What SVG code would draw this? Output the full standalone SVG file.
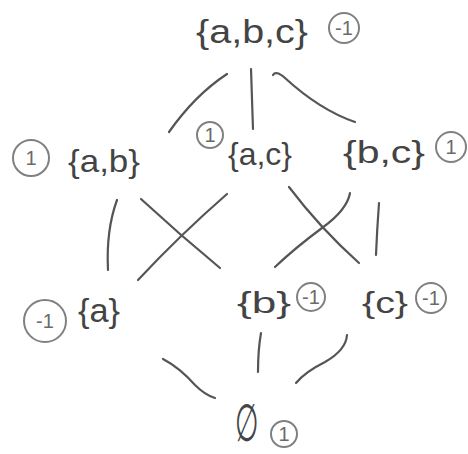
<svg xmlns="http://www.w3.org/2000/svg" width="468" height="454" viewBox="0 0 468 454">
<style>
.lbl{font-family:"Liberation Sans","DejaVu Sans",sans-serif;fill:#444;text-anchor:start}
.num{font-family:"Liberation Sans","DejaVu Sans",sans-serif;fill:#6a6a6a;font-size:20px;text-anchor:middle}
.ring{fill:none;stroke:#808080;stroke-width:2}
.edge{fill:none;stroke:#555;stroke-width:2.2;stroke-linecap:round}
</style>
<rect width="468" height="454" fill="#fff"/>
<g id="connectors">
<path class="edge" d="M227,74 Q195,95 169,132"/>
<path class="edge" d="M251,69 Q252,100 253,129"/>
<path class="edge" d="M273,75 Q276,70 285,78 Q320,110 355,122"/>
<path class="edge" d="M117,200 Q106,230 108,270"/>
<path class="edge" d="M141,199 Q180,235 220,268"/>
<path class="edge" d="M227,194 Q180,235 138,280"/>
<path class="edge" d="M289,187 Q320,228 359,263"/>
<path class="edge" d="M350,193 Q347,210 322,228 Q295,248 275,267"/>
<path class="edge" d="M379,203 Q377,230 376,255"/>
<path class="edge" d="M163,359 Q180,368 195,385 Q205,395 215,398"/>
<path class="edge" d="M261,333 Q258,350 258,372"/>
<path class="edge" d="M347,335 Q346,350 325,362 Q305,372 296,383"/>
</g>
<g id="n-abc">
<text class="lbl" x="196" y="43" font-size="34" textLength="112" lengthAdjust="spacingAndGlyphs">{a,b,c}</text>
<circle class="ring" cx="344" cy="28" r="15"/>
<text class="num" x="344" y="35">-1</text>
</g>
<g id="n-ab">
<circle class="ring" cx="31" cy="158" r="18"/>
<text class="num" x="31" y="165">1</text>
<text class="lbl" x="68" y="172" font-size="32" textLength="72" lengthAdjust="spacingAndGlyphs">{a,b}</text>
</g>
<g id="n-ac">
<circle class="ring" cx="210" cy="135" r="13"/>
<text class="num" x="210" y="142">1</text>
<text class="lbl" x="228" y="165" font-size="32" textLength="64" lengthAdjust="spacingAndGlyphs">{a,c}</text>
</g>
<g id="n-bc">
<text class="lbl" x="343" y="163" font-size="32" textLength="82" lengthAdjust="spacingAndGlyphs">{b,c}</text>
<circle class="ring" cx="451" cy="147" r="15"/>
<text class="num" x="451" y="154">1</text>
</g>
<g id="n-a">
<circle class="ring" cx="45" cy="321" r="21"/>
<text class="num" x="45" y="328">-1</text>
<text class="lbl" x="78" y="322" font-size="34" textLength="42" lengthAdjust="spacingAndGlyphs">{a}</text>
</g>
<g id="n-b">
<text class="lbl" x="237" y="313" font-size="30" textLength="54" lengthAdjust="spacingAndGlyphs">{b}</text>
<circle class="ring" cx="311" cy="297" r="14"/>
<text class="num" x="311" y="304">-1</text>
</g>
<g id="n-c">
<text class="lbl" x="362" y="313" font-size="30" textLength="46" lengthAdjust="spacingAndGlyphs">{c}</text>
<circle class="ring" cx="431" cy="298" r="15"/>
<text class="num" x="431" y="305">-1</text>
</g>
<g id="n-empty">
<text class="lbl" font-size="36" transform="translate(235,441) scale(0.75,1.45)">∅</text>
<circle class="ring" cx="284" cy="434" r="13"/>
<text class="num" x="284" y="441">1</text>
</g>
</svg>
